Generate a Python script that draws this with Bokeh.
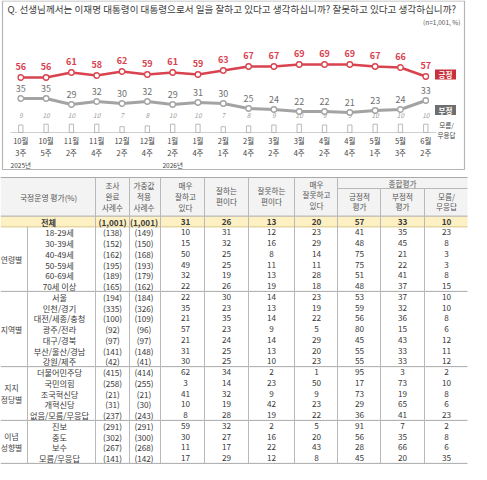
from bokeh.plotting import figure
from bokeh.models import Range1d, ColumnDataSource
from bokeh.core.properties import value
from bokeh.embed import file_html
from bokeh.resources import INLINE

FONT = value("Noto Sans CJK KR")

# ---------------- data ----------------
title_text = "Q. 선생님께서는 이재명 대통령이 대통령으로서 일을 잘하고 있다고 생각하십니까? 잘못하고 있다고 생각하십니까?"
note_text = "(n=1,001, %)"

week_month = ["10월", "10월", "11월", "11월", "12월", "12월", "1월", "1월", "2월",
              "2월", "3월", "3월", "4월", "4월", "5월", "5월", "6월"]
week_num = ["3주", "5주", "2주", "4주", "2주", "4주", "2주", "4주", "1주",
            "4주", "2주", "4주", "2주", "4주", "1주", "3주", "2주"]
year_labels = ["2025년", "2026년"]
year_at = [0, 6]

positive = [56, 56, 61, 58, 62, 59, 61, 59, 63, 67, 67, 69, 69, 69, 67, 66, 57]
negative = [35, 35, 29, 32, 30, 32, 29, 31, 30, 25, 24, 22, 22, 21, 23, 24, 33]
dont_know = [9, 10, 10, 10, 7, 8, 10, 10, 7, 8, 9, 10, 9, 9, 10, 10, 10]
series_names = ["긍정", "부정", "모름/\n무응답"]

header_first = "국정운영 평가(%)"
header_cols = ["조사\n완료\n사례수", "가중값\n적용\n사례수", "매우\n잘하고\n있다", "잘하는\n편이다",
               "잘못하는\n편이다", "매우\n잘못하고\n있다", "긍정적\n평가", "부정적\n평가", "모름/\n무응답"]
header_group = "종합평가"

groups = ["연령별", "지역별", "지지\n정당별", "이념\n성향별"]
group_sizes = [6, 7, 5, 4]
row_labels = ["전체", "18-29세", "30-39세", "40-49세", "50-59세", "60-69세", "70세 이상",
              "서울", "인천/경기", "대전/세종/충청", "광주/전라", "대구/경북", "부산/울산/경남", "강원/제주",
              "더불어민주당", "국민의힘", "조국혁신당", "개혁신당", "없음/모름/무응답",
              "진보", "중도", "보수", "모름/무응답"]
n_surveyed = [1001, 138, 152, 162, 195, 189, 165, 194, 335, 100, 92, 97, 141, 42,
              415, 258, 21, 31, 237, 291, 302, 267, 141]
n_weighted = [1001, 149, 150, 168, 193, 179, 162, 184, 326, 109, 96, 97, 148, 41,
              414, 255, 21, 30, 243, 291, 300, 268, 142]
very_good = [31, 10, 15, 50, 49, 32, 22, 22, 35, 21, 57, 21, 31, 30, 62, 3, 41, 10, 8, 59, 30, 11, 17]
fairly_good = [26, 31, 32, 25, 25, 19, 26, 30, 23, 35, 23, 24, 25, 25, 34, 14, 32, 19, 28, 32, 27, 17, 29]
fairly_bad = [13, 12, 16, 8, 11, 13, 19, 14, 13, 14, 9, 14, 13, 10, 2, 23, 9, 42, 19, 2, 16, 22, 12]
very_bad = [20, 23, 29, 14, 11, 28, 18, 23, 19, 22, 5, 29, 20, 23, 1, 50, 9, 23, 22, 5, 20, 43, 8]
total_pos = [57, 41, 48, 75, 75, 51, 48, 53, 59, 56, 80, 45, 55, 55, 95, 17, 73, 29, 36, 91, 56, 28, 45]
total_neg = [33, 35, 45, 21, 22, 41, 37, 37, 32, 36, 15, 43, 33, 33, 3, 73, 19, 65, 41, 7, 35, 66, 20]
total_dk = [10, 23, 8, 3, 3, 8, 15, 10, 10, 8, 6, 12, 11, 12, 2, 10, 8, 6, 23, 2, 8, 6, 35]

# ---------------- layout constants (pixels) ----------------
W, H = 471, 464
X0, DX = 20.3, 25.31          # first week position, spacing
ZERO_Y, PX_PCT = 133.0, 1.0   # pct scale
DK_ZERO, DK_PX = 132.0, 0.83  # don't-know bar scale
ROW0, ROW_H = 221.0, 10.75    # table rows
TBL_TOP, TBL_L, TBL_R = 177.0, 0.0, 467.0
col_x = [112, 143.5, 185, 226, 271, 316, 359, 402, 446]
col_edges = [95, 129, 160, 204, 248, 294, 337, 380, 424]
RED, RED_BOX = "#d8434f", "#c8303c"
GRAY, GRAY_BOX = "#a3a3a3", "#6e6e6e"
LINE_C = "#b9b9b9"

p = figure(width=W, height=H, x_range=Range1d(0, W), y_range=Range1d(H, 0),
           x_axis_type=None, y_axis_type=None, toolbar_location=None,
           output_backend="svg", min_border=0, outline_line_color=None,
           background_fill_color="white", border_fill_color="white")
p.xgrid.visible = False
p.ygrid.visible = False

p.extra_x_ranges = {"wk": Range1d(-X0 / DX, (W - X0) / DX)}
p.extra_y_ranges = {
    "pct": Range1d(start=(ZERO_Y - H) / PX_PCT, end=ZERO_Y / PX_PCT),
    "dk": Range1d(start=(DK_ZERO - H) / DK_PX, end=DK_ZERO / DK_PX),
    "row": Range1d(start=(H - ROW0) / ROW_H, end=-ROW0 / ROW_H),
}

idx = list(range(len(positive)))

# ---------------- top chart ----------------
p.quad(left=[2], right=[464], top=[0.5], bottom=[169], fill_color=None,
       line_color="#b5b5b5", line_width=1.2)
p.text(x=[7], y=[8], text=[title_text], text_font=FONT, text_font_size="9.6px",
       text_color="#3c3c3c", text_align="left", text_baseline="middle")
p.text(x=[460], y=[21], text=[note_text], text_font=FONT, text_font_size="6.5px",
       text_color="#555", text_align="right", text_baseline="middle")

p.segment(x0=[10], y0=[DK_ZERO], x1=[436], y1=[DK_ZERO], line_color="#cfcfcf", line_width=1)

# don't know bars + labels
p.vbar(x=idx, top=dont_know, bottom=0, width=0.17, x_range_name="wk", y_range_name="dk",
       fill_color="white", line_color="#a8a8a8", line_width=0.8)
p.text(x=idx, y=[115] * len(idx), text=[str(v) for v in dont_know], x_range_name="wk",
       text_font=FONT, text_font_size="6.5px", text_font_style="italic", text_color="#9a9a9a",
       text_align="center", text_baseline="middle")

# negative line
p.line(idx, negative, x_range_name="wk", y_range_name="pct", line_color=GRAY, line_width=3)
p.scatter(idx, negative, x_range_name="wk", y_range_name="pct", size=5.5, fill_color="white",
          line_color=GRAY, line_width=1.3)
p.text(x=idx, y=negative, text=[str(v) for v in negative], x_range_name="wk", y_range_name="pct",
       y_offset=-10, text_font=FONT, text_font_size="9px", text_color="#6f6f6f",
       text_align="center", text_baseline="middle")

# positive line
p.line(idx, positive, x_range_name="wk", y_range_name="pct", line_color=RED, line_width=2.6)
p.scatter(idx, positive, x_range_name="wk", y_range_name="pct", size=5.5, fill_color="white",
          line_color=RED, line_width=1.3)
p.text(x=idx, y=positive, text=[str(v) for v in positive], x_range_name="wk", y_range_name="pct",
       y_offset=-11, text_font=FONT, text_font_size="9px", text_font_style="bold", text_color=RED,
       text_align="center", text_baseline="middle")

# legend tags
p.rect(x=[445, 445], y=[74, 109.5], width=21, height=10, fill_color=[RED_BOX, GRAY_BOX], line_color=None)
p.text(x=[445, 445], y=[74, 109.5], text=series_names[:2], text_font=FONT, text_font_size="7.5px",
       text_font_style="bold", text_color="white", text_align="center", text_baseline="middle")
p.text(x=[446], y=[129.5], text=[series_names[2]], text_font=FONT, text_font_size="6.5px",
       text_color="#444", text_align="center", text_baseline="middle", text_line_height=0.95)

# x labels
p.text(x=idx, y=[139.5] * len(idx), text=week_month, x_range_name="wk", text_font=FONT,
       text_font_size="7.5px", text_color="#444", text_align="center", text_baseline="middle")
p.text(x=idx, y=[152] * len(idx), text=week_num, x_range_name="wk", text_font=FONT,
       text_font_size="7.5px", text_color="#444", text_align="center", text_baseline="middle")
p.text(x=year_at, y=[164] * 2, text=year_labels, x_range_name="wk", text_font=FONT,
       text_font_size="6.5px", text_color="#444", text_align="center", text_baseline="middle")

# ---------------- table ----------------
hdr_bottom_k = -0.5
p.quad(left=[TBL_L], right=[TBL_R], top=[TBL_TOP], bottom=[ROW0 + hdr_bottom_k * ROW_H],
       fill_color="#f3f3f3", line_color=None)
p.quad(left=[TBL_L], right=[TBL_R], top=[-0.5], bottom=[0.5], y_range_name="row",
       fill_color="#fdf0c3", line_color=None)

# horizontal lines
p.segment(x0=[TBL_L], y0=[TBL_TOP], x1=[TBL_R], y1=[TBL_TOP], line_color="#a9a9a9", line_width=1)
sep = [-0.5, 0.5]
acc = 0.5
for g in group_sizes:
    acc += g
    sep.append(acc)
p.segment(x0=[TBL_L] * len(sep), y0=sep, x1=[TBL_R] * len(sep), y1=sep, y_range_name="row",
          line_color=["#a9a9a9", "#d9c98c"] + ["#a9a9a9"] * len(group_sizes), line_width=1)
# group underline in header
p.segment(x0=[col_edges[6]], y0=[188], x1=[TBL_R], y1=[188], line_color=LINE_C, line_width=1)

# vertical lines
bottom_px = ROW0 + sep[-1] * ROW_H
vy0 = [TBL_TOP] * 7 + [188, 188]
p.segment(x0=col_edges, y0=vy0, x1=col_edges, y1=[bottom_px] * len(col_edges),
          line_color=LINE_C, line_width=1)
p.segment(x0=[27], y0=[ROW0 + 0.5 * ROW_H], x1=[27], y1=[bottom_px], line_color=LINE_C, line_width=1)

# header texts
p.text(x=[48], y=[197], text=[header_first], text_font=FONT, text_font_size="7.8px",
       text_color="#555", text_align="center", text_baseline="middle")
hy = [196, 196, 196, 195.5, 195.5, 194.5, 201, 201, 201]
p.text(x=col_x, y=hy, text=header_cols, text_font=FONT, text_font_size="7.6px", text_color="#555",
       text_align="center", text_baseline="middle", text_line_height=0.96)
p.text(x=[(col_edges[6] + TBL_R) / 2], y=[183], text=[header_group], text_font=FONT,
       text_font_size="7.6px", text_color="#555", text_align="center", text_baseline="middle")

# body texts
columns = [[f"({n:,})" for n in n_surveyed], [f"({n:,})" for n in n_weighted],
           very_good, fairly_good, fairly_bad, very_bad, total_pos, total_neg, total_dk]
xs, ks, ts, fs = [], [], [], []
for cx, col in zip(col_x, columns):
    for k, v in enumerate(col):
        xs.append(cx); ks.append(k); ts.append(str(v)); fs.append("bold" if k == 0 else "normal")
for k, lab in enumerate(row_labels):
    xs.append(48 if k == 0 else 59); ks.append(k); ts.append(lab); fs.append("bold" if k == 0 else "normal")
src = ColumnDataSource(dict(x=xs, k=ks, t=ts, fs=fs))
p.text(x="x", y="k", text="t", source=src, y_range_name="row", text_font=FONT,
       text_font_size="8.2px", text_font_style="fs", text_color="#3a3a3a",
       text_align="center", text_baseline="middle")

# group labels
gk = []
start = 1
for g in group_sizes:
    gk.append(start + (g - 1) / 2)
    start += g
p.text(x=[11] * len(groups), y=gk, text=groups, y_range_name="row", text_font=FONT,
       text_font_size="7.8px", text_color="#444", text_align="center", text_baseline="middle",
       text_line_height=1.02)

open("out.html", "w").write(file_html(p, INLINE))
